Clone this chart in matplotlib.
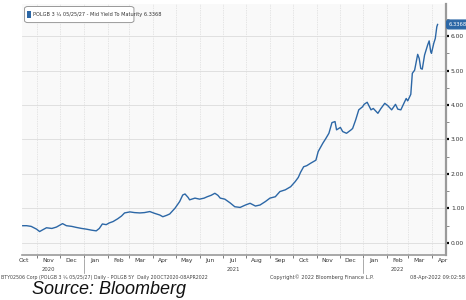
import numpy as np
import pandas as pd
import matplotlib
matplotlib.use("Agg")
import matplotlib.pyplot as plt
import matplotlib.dates as mdates
from matplotlib.patches import Rectangle, FancyBboxPatch
from matplotlib.ticker import MultipleLocator, NullFormatter

# ---------------------------------------------------------------
# data: POLGB 3 1/4 05/25/27 mid yield to maturity
dates = [
    "2020-10-13", "2020-10-18", "2020-10-24", "2020-10-31", "2020-11-04", "2020-11-08",
    "2020-11-13", "2020-11-20", "2020-11-26", "2020-12-04", "2020-12-09", "2020-12-16",
    "2020-12-22", "2020-12-29", "2021-01-04", "2021-01-11", "2021-01-17", "2021-01-21",
    "2021-01-25", "2021-01-30", "2021-02-03", "2021-02-08", "2021-02-14", "2021-02-19",
    "2021-02-23", "2021-03-02", "2021-03-08", "2021-03-15", "2021-03-21", "2021-03-28",
    "2021-04-03", "2021-04-10", "2021-04-14", "2021-04-19", "2021-04-23", "2021-04-30",
    "2021-05-06", "2021-05-10", "2021-05-13", "2021-05-17", "2021-05-19", "2021-05-26",
    "2021-06-01", "2021-06-07", "2021-06-11", "2021-06-16", "2021-06-21", "2021-06-25",
    "2021-06-28", "2021-07-04", "2021-07-11", "2021-07-17", "2021-07-24", "2021-07-31",
    "2021-08-06", "2021-08-13", "2021-08-19", "2021-08-26", "2021-09-01", "2021-09-08",
    "2021-09-14", "2021-09-21", "2021-09-28", "2021-10-04", "2021-10-08", "2021-10-11",
    "2021-10-15", "2021-10-19", "2021-10-24", "2021-10-31", "2021-11-03", "2021-11-09",
    "2021-11-13", "2021-11-17", "2021-11-21", "2021-11-25", "2021-11-27", "2021-12-02",
    "2021-12-05", "2021-12-10", "2021-12-16", "2021-12-18", "2021-12-22", "2021-12-26",
    "2021-12-31", "2022-01-02", "2022-01-06", "2022-01-11", "2022-01-14", "2022-01-20",
    "2022-01-24", "2022-01-29", "2022-02-02", "2022-02-07", "2022-02-12", "2022-02-15",
    "2022-02-19", "2022-02-23", "2022-02-26", "2022-02-28", "2022-03-04", "2022-03-06",
    "2022-03-09", "2022-03-13", "2022-03-15", "2022-03-17", "2022-03-19", "2022-03-22",
    "2022-03-26", "2022-03-28", "2022-03-30", "2022-03-31", "2022-04-03", "2022-04-05",
    "2022-04-07", "2022-04-08",
]
yields = [
    0.50, 0.50, 0.48, 0.40, 0.33, 0.38,
    0.44, 0.42, 0.46, 0.56, 0.50, 0.48,
    0.45, 0.42, 0.40, 0.37, 0.35, 0.42,
    0.55, 0.53, 0.58, 0.62, 0.70, 0.78,
    0.87, 0.90, 0.88, 0.87, 0.88, 0.91,
    0.86, 0.81, 0.76, 0.80, 0.84, 1.01,
    1.20, 1.39, 1.42, 1.32, 1.25, 1.30,
    1.27, 1.30, 1.34, 1.38, 1.44, 1.38,
    1.30, 1.27, 1.16, 1.05, 1.03, 1.10,
    1.15, 1.07, 1.10, 1.20, 1.30, 1.34,
    1.49, 1.54, 1.63, 1.78, 1.90, 2.05,
    2.21, 2.24, 2.31, 2.40, 2.65, 2.89,
    3.03, 3.18, 3.49, 3.52, 3.28, 3.35,
    3.23, 3.18, 3.28, 3.32, 3.57, 3.86,
    3.95, 4.02, 4.08, 3.86, 3.90, 3.76,
    3.90, 4.05, 3.98, 3.86, 4.02, 3.88,
    3.86, 4.05, 4.19, 4.12, 4.31, 4.92,
    5.01, 5.47, 5.35, 5.06, 5.04, 5.45,
    5.74, 5.86, 5.55, 5.50, 5.79, 5.93,
    6.27, 6.3368,
]
last_value = "6.3368"
year_labels = [("2020", "2020-11-15"), ("2021", "2021-07-15"), ("2022", "2022-02-15")]
year_breaks = ["2021-01-01", "2022-01-01"]
legend_text = "POLGB 3 \u00bc 05/25/27 - Mid Yield To Maturity 6.3368"
footer_left = "BTY02506 Corp (POLGB 3 \u00bc 05/25/27) Daily - POLGB 5Y  Daily 20OCT2020-08APR2022"
footer_mid = "Copyright\u00a9 2022 Bloomberg Finance L.P."
footer_right = "08-Apr-2022 09:02:58"

x = pd.to_datetime(dates)
blue = "#2c67a6"

#---------------------------------------------------------------
fig = plt.figure(figsize=(4.66, 3.0), dpi=100)
ax = fig.add_axes([22/466, 45/300, 424/466, 251/300])
ax.set_facecolor("#f9f9f9")

ax.plot(x, yields, color=blue, lw=1.0)

ax.set_xlim(pd.Timestamp("2020-10-12"), pd.Timestamp("2022-04-19"))
ax.set_ylim(-0.35, 6.93)

# y axis on the right
ax.yaxis.tick_right()
ax.yaxis.set_major_locator(MultipleLocator(1))
ax.yaxis.set_minor_locator(MultipleLocator(0.5))
ax.yaxis.set_major_formatter(lambda v, p: f"{v:.2f}")
ax.tick_params(axis="y", which="major", length=2.5, width=1.6, color="black",
               labelsize=4.3, pad=1, labelcolor="#333333")
ax.tick_params(axis="y", which="minor", length=2, width=0.6, color="#777777")

# x axis: ticks at month start, labels mid month
ax.xaxis.set_major_locator(mdates.MonthLocator())
ax.xaxis.set_major_formatter(NullFormatter())
ax.xaxis.set_minor_locator(mdates.MonthLocator(bymonthday=15))
ax.xaxis.set_minor_formatter(mdates.DateFormatter("%b"))
ax.tick_params(axis="x", which="major", length=2.5, width=0.6, color="#666666")
ax.tick_params(axis="x", which="minor", length=0, labelsize=4.3, pad=2.5,
               labelcolor="#333333")

ax.grid(axis="y", which="major", color="#dcdcdc", lw=0.6)
ax.grid(axis="x", which="major", color="#d0d0d0", lw=0.5, ls=(0, (1, 1.5)))
ax.set_axisbelow(True)

for s in ["top", "left"]:
    ax.spines[s].set_visible(False)
ax.spines["right"].set_color("#9a9a9a")
ax.spines["right"].set_linewidth(1.6)
ax.spines["bottom"].set_color("#9a9a9a")
ax.spines["bottom"].set_linewidth(1.2)

# year labels and separators below the axis
trans = ax.get_xaxis_transform()
for yr, pos in year_labels:
    ax.text(pd.Timestamp(pos), -0.056, yr, transform=trans, ha="center", va="center",
            fontsize=3.8, color="#444444")
for sep in year_breaks:
    ax.plot([pd.Timestamp(sep)] * 2, [-0.015, -0.07], transform=trans, color="#888888",
            lw=0.5, clip_on=False)

# legend box
ax.add_patch(FancyBboxPatch((0.006, 0.926), 0.258, 0.064, transform=ax.transAxes,
                            boxstyle="round,pad=0,rounding_size=0.008",
                            fc="white", ec="#999999", lw=0.7, zorder=9))
ax.add_patch(Rectangle((0.012, 0.944), 0.010, 0.028, transform=ax.transAxes,
                       fc=blue, ec="none", zorder=10))
ax.text(0.025, 0.958, legend_text, transform=ax.transAxes, fontsize=3.6, color="#333333",
        va="center", ha="left", zorder=11)

# last value tag on the right
ax.text(1.006, yields[-1], last_value, transform=ax.get_yaxis_transform(),
        fontsize=3.8, color="white", va="center", ha="left", clip_on=False,
        bbox=dict(boxstyle="round,pad=0.35", fc=blue, ec=blue))

# footer
fig.text(0.002, 1 - 277/300, footer_left, fontsize=3.4, color="#444444", va="center")
fig.text(0.69, 1 - 277/300, footer_mid, fontsize=3.6, color="#444444", va="center",
         ha="center")
fig.text(0.998, 1 - 277/300, footer_right, fontsize=3.6, color="#444444", va="center",
         ha="right")

fig.text(32/466, 1 - 289/300, "Source: Bloomberg", fontsize=13, style="italic",
         family="Liberation Sans", color="#111111", va="center", ha="left")

plt.savefig("out.png", dpi=100)
